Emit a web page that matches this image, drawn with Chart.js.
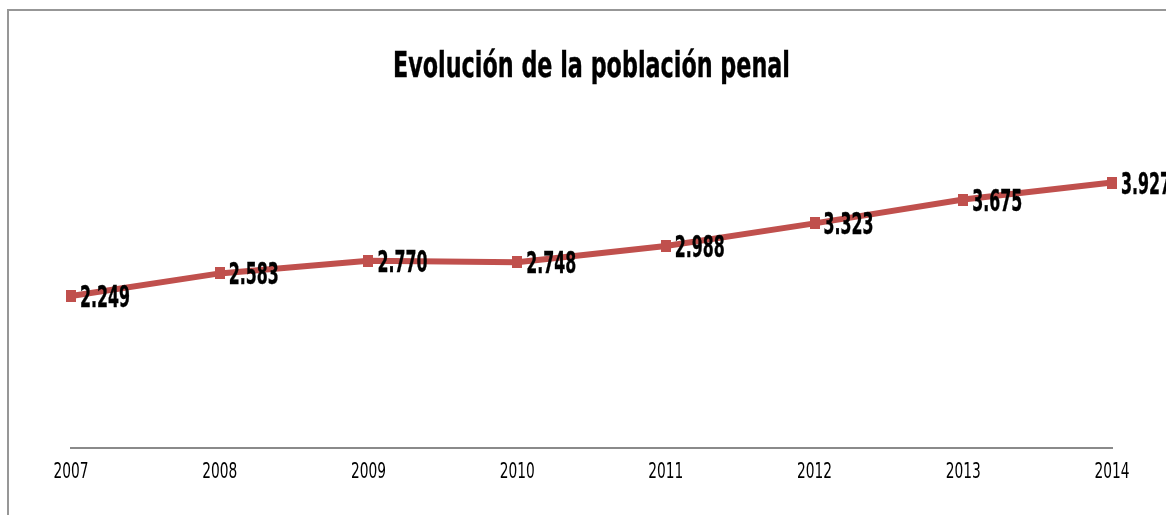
<!DOCTYPE html>
<html>
<head>
<meta charset="utf-8">
<script src="https://cdn.jsdelivr.net/npm/chart.js@4.4.1/dist/chart.umd.min.js"></script>
<style>
    html, body { margin: 0; padding: 0; background: #fff; overflow: hidden; }
    #frame {
        position: absolute; left: 7px; top: 9px; width: 1300px; height: 600px;
        border-left: 2px solid #979797; border-top: 2px solid #979797;
    }
    #wrap { position: absolute; left: 0; top: 0; width: 1166px; height: 515px; }
</style>
</head>
<body>
<div id="frame"></div>
<div id="wrap"><canvas id="chart"></canvas></div>
<script>
const years = ['2007', '2008', '2009', '2010', '2011', '2012', '2013', '2014'];
const population = [2.249, 2.583, 2.770, 2.748, 2.988, 3.323, 3.675, 3.927];
const valueLabels = ['2.249', '2.583', '2.770', '2.748', '2.988', '3.323', '3.675', '3.927'];
const titleText = 'Evolución de la población penal';

const cond = "'DejaVu Sans Condensed', 'DejaVu Sans', sans-serif";
const red = '#C0504D';

// marker: a slightly tall square, like in the squeezed original
const marker = document.createElement('canvas');
marker.width = 10;
marker.height = 12;
const mctx = marker.getContext('2d');
mctx.fillStyle = red;
mctx.fillRect(0, 0, 10, 12);

// the original picture is squeezed sideways, so text is drawn narrow
function squeezedText(ctx, text, x, y, k, bold) {
    ctx.save();
    ctx.translate(x, y);
    ctx.scale(k, 1);
    if (bold) {
        ctx.lineWidth = 0.4;
        ctx.strokeStyle = '#000';
        ctx.strokeText(text, 0, 0);
    }
    ctx.fillText(text, 0, 0);
    ctx.restore();
}

const textLayer = {
    id: 'textLayer',
    afterDraw(chart) {
        const ctx = chart.ctx;
        const area = chart.chartArea;
        const xs = chart.scales.x;
        ctx.save();
        ctx.fillStyle = '#000';
        ctx.textBaseline = 'alphabetic';

        // title
        ctx.font = 'bold 36px ' + cond;
        ctx.textAlign = 'center';
        let k = 397 / ctx.measureText(titleText).width;
        squeezedText(ctx, titleText, (area.left + area.right) / 2, 77, k, true);

        // year ticks
        ctx.font = '21px ' + cond;
        k = 35 / ctx.measureText('2007').width;
        years.forEach((y, i) => {
            squeezedText(ctx, y, xs.getPixelForTick(i), area.bottom + 30, k, false);
        });

        // value labels right of each point
        ctx.font = 'bold 30px ' + cond;
        ctx.textAlign = 'left';
        k = 50 / ctx.measureText('2.249').width;
        chart.getDatasetMeta(0).data.forEach((pt, i) => {
            squeezedText(ctx, valueLabels[i], pt.x + 9, pt.y + 11, k, true);
        });
        ctx.restore();
    }
};

const ctx = document.getElementById('chart').getContext('2d');
new Chart(ctx, {
    type: 'line',
    data: {
        labels: years,
        datasets: [{
            data: population,
            borderColor: red,
            backgroundColor: red,
            borderWidth: 6,
            pointStyle: marker,
            pointRadius: 6,
            pointBorderWidth: 0,
            tension: 0
        }]
    },
    options: {
        responsive: true,
        maintainAspectRatio: false,
        animation: false,
        layout: { padding: { left: 71, right: 54, top: 110, bottom: 67 } },
        plugins: {
            legend: { display: false },
            tooltip: { enabled: false },
            title: { display: false }
        },
        scales: {
            x: {
                offset: false,
                grid: { display: false, drawTicks: false },
                border: { display: true, color: '#8a8a8a', width: 2 },
                ticks: { display: false }
            },
            y: {
                display: false,
                min: 0,
                max: 5
            }
        }
    },
    plugins: [textLayer]
});
</script>
</body>
</html>
